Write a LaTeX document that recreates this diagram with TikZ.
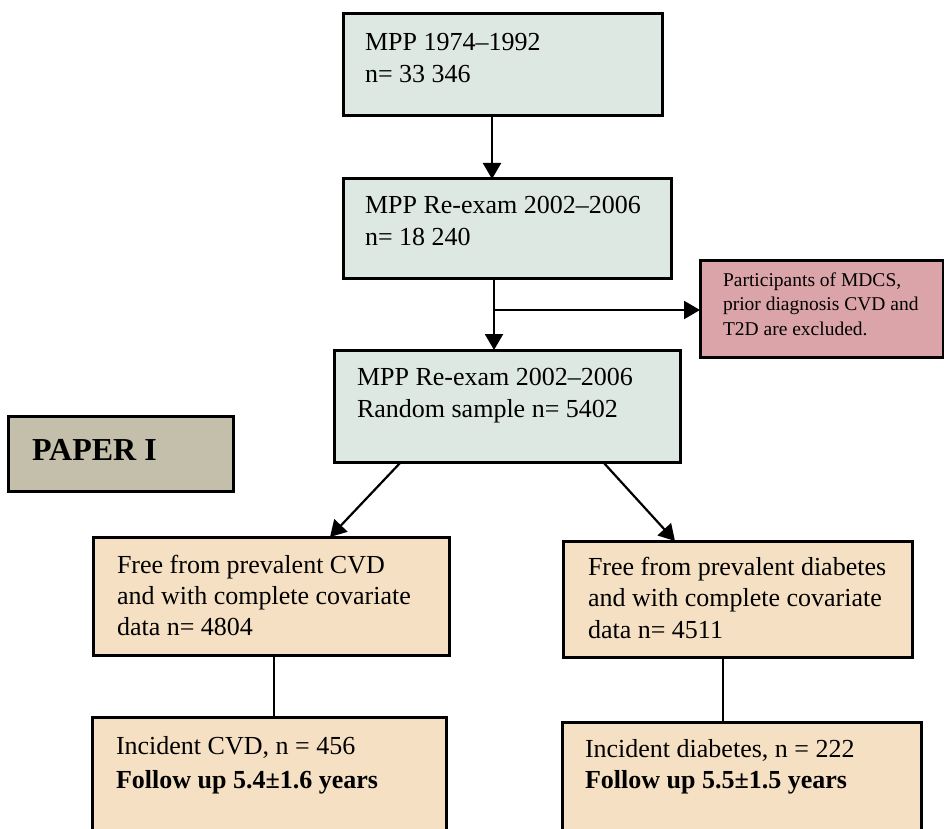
\documentclass[tikz,border=0pt]{standalone}
\usepackage{fontspec}
\setmainfont{Liberation Serif}
\usetikzlibrary{arrows.meta}
\definecolor{bluegrey}{RGB}{222,232,226}
\definecolor{pinkbox}{RGB}{219,164,168}
\definecolor{tanbox}{RGB}{245,224,195}
\definecolor{paperbox}{RGB}{196,191,171}
\begin{document}
\begin{tikzpicture}[x=1pt,y=-1pt,
  box/.style={draw=black,line width=3pt,inner sep=0pt,outer sep=0pt,anchor=north west},
  txt/.style={inner sep=0pt,outer sep=0pt,anchor=base west,align=left,font=\fontsize{26}{32}\selectfont},
  arr/.style={line width=2.2pt,-{Triangle[width=18pt,length=16pt]}},
  ln/.style={line width=2.2pt}]
\useasboundingbox (0,0) rectangle (944,829);
\clip (0,0) rectangle (944,829);
% boxes
\node[box,fill=bluegrey,minimum width=319pt,minimum height=102pt] (b1) at (343,14) {};
\node[box,fill=bluegrey,minimum width=328pt,minimum height=99pt] (b2) at (343,179) {};
\node[box,fill=pinkbox,minimum width=243pt,minimum height=97pt] (pk) at (700,260) {};
\node[box,fill=bluegrey,minimum width=346pt,minimum height=112pt] (b3) at (334,350) {};
\node[box,fill=paperbox,minimum width=225pt,minimum height=75pt] (pp) at (8,416) {};
\node[box,fill=tanbox,minimum width=356pt,minimum height=118pt] (b4) at (93,537) {};
\node[box,fill=tanbox,minimum width=354pt,minimum height=130pt] (b5) at (92,717) {};
\node[box,fill=tanbox,minimum width=349pt,minimum height=116pt] (b6) at (563,541) {};
\node[box,fill=tanbox,minimum width=359pt,minimum height=130pt] (b7) at (562,722) {};
% texts (anchor = baseline of the last line)
\node[txt] (t1) at (365,83) {MPP 1974–1992\\n= 33 346};
\node[txt] (t2) at (365,245) {MPP Re-exam 2002–2006\\n= 18 240};
\node[txt,font=\fontsize{19.5}{24.5}\selectfont] (tp) at (723,335) {Participants of MDCS,\\prior diagnosis CVD and\\T2D are excluded.};
\node[txt] (t3) at (357,417) {MPP Re-exam 2002–2006\\Random sample n= 5402};
\node[txt,font=\fontsize{32}{36}\bfseries] (tpp) at (32,460) {PAPER I};
\node[txt,font=\fontsize{26}{31}\selectfont] (t4) at (117,635) {Free from prevalent CVD\\and with complete covariate\\data n= 4804};
\node[txt,font=\fontsize{26}{34}\selectfont] (t5) at (116,788) {Incident CVD, n = 456\\\textbf{Follow up 5.4±1.6 years}};
\node[txt,font=\fontsize{26}{31.5}\selectfont] (t6) at (588,638) {Free from prevalent diabetes\\and with complete covariate\\data n= 4511};
\node[txt,font=\fontsize{26}{31}\selectfont] (t7) at (585,788) {Incident diabetes, n = 222\\\textbf{Follow up 5.5±1.5 years}};
% connectors
\draw[arr] ([xshift=149pt]b1.south west) -- ([xshift=149pt]b2.north west);
\coordinate (j) at ([xshift=151pt,yshift=-32pt]b2.south west);
\draw[arr] ([xshift=151pt]b2.south west) -- ([xshift=160pt]b3.north west);
\draw[arr] (j) -- (j -| pk.west);
\draw[arr] ([xshift=67pt]b3.south west) -- ([xshift=237pt]b4.north west);
\draw[arr] ([xshift=269pt]b3.south west) -- ([xshift=112pt]b6.north west);
\draw[ln] ([xshift=181pt]b4.south west) -- ([xshift=182pt]b5.north west);
\draw[ln] ([xshift=160pt]b6.south west) -- ([xshift=161pt]b7.north west);
\end{tikzpicture}
\end{document}
